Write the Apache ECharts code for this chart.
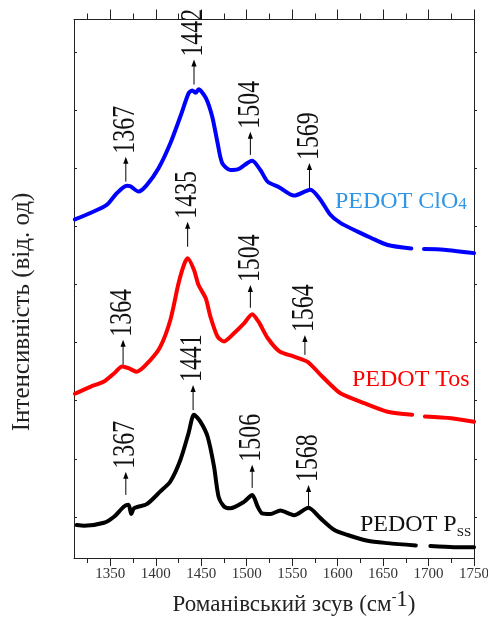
<!DOCTYPE html>
<html>
<head>
<meta charset="utf-8">
<script src="https://cdn.jsdelivr.net/npm/echarts@6/dist/echarts.min.js"></script>
<style>
  html, body { margin: 0; padding: 0; background: #fff; }
  #chart { width: 488px; height: 619px; }
</style>
</head>
<body>
<div id="chart"></div>
<script>
// Raman spectra of three PEDOT films, stacked with vertical offsets (arb. units).
// null marks the break in each recorded trace.

const shiftClO4 = [1311, 1328, 1346, 1357, 1368, 1372, 1381, 1390, 1403, 1416, 1427, 1436, 1440, 1444, 1447, 1455, 1462, 1468, 1473, 1482, 1490, 1506, 1515, 1523, 1536, 1552, 1570, 1581, 1592, 1603, 1622, 1637, 1655, 1681, 1688, 1695, 1717, 1750];
const intClO4   = [51.2, 52.3, 53.7, 55.7, 57.0, 56.9, 56.0, 57.1, 60.0, 64.3, 68.9, 72.9, 73.4, 73.0, 73.6, 72.1, 68.9, 64.3, 60.9, 59.7, 59.8, 61.3, 59.7, 57.7, 56.7, 55.3, 56.3, 54.6, 52.0, 50.6, 49.1, 48.0, 46.8, 46.2, null, 46.1, 46.0, 45.4];

const shiftTos = [1311, 1328, 1343, 1354, 1363, 1370, 1379, 1394, 1405, 1416, 1425, 1431, 1435, 1442, 1447, 1455, 1460, 1468, 1475, 1486, 1497, 1506, 1513, 1523, 1536, 1552, 1567, 1581, 1592, 1603, 1629, 1655, 1682, 1689, 1696, 1725, 1750];
const intTos   = [21.2, 22.4, 23.3, 24.7, 25.9, 25.6, 25.0, 27.0, 29.3, 33.9, 40.2, 43.4, 44.5, 42.5, 39.9, 37.6, 34.5, 31.0, 30.2, 31.6, 33.3, 34.9, 33.6, 30.8, 28.5, 27.6, 26.7, 24.5, 22.8, 21.3, 19.6, 18.1, 17.6, null, 17.3, 17.0, 16.4];

const shiftPSS = [1313, 1321, 1343, 1354, 1365, 1370, 1373, 1376, 1390, 1405, 1416, 1427, 1436, 1442, 1449, 1457, 1464, 1469, 1475, 1482, 1497, 1506, 1512, 1517, 1526, 1537, 1552, 1568, 1581, 1596, 1611, 1633, 1655, 1686, 1694, 1702, 1728, 1750];
const intPSS   = [-1.4, -1.5, -1.0, 0.05, 1.8, 2.1, 0.5, 1.5, 2.2, 4.4, 6.1, 9.8, 14.4, 17.6, 16.4, 13.8, 8.7, 3.5, 1.8, 1.5, 2.6, 3.8, 1.8, 0.6, 0.5, 1.1, 0.3, 1.6, -0.2, -2.2, -3.1, -4.1, -4.5, -4.9, null, -5.0, -5.2, -5.2];

// Assigned bands: position (cm-1), arrow foot and arrow tip (intensity units)
const peaksClO4    = [1367, 1442, 1504, 1569];
const arrowFootClO4 = [57.7, 74.4, 62.3, 56.5];
const arrowTipClO4  = [62.0, 78.7, 66.3, 60.9];

const peaksTos     = [1364, 1435, 1504, 1564];
const arrowFootTos = [26.2, 46.5, 36.0, 27.9];
const arrowTipTos  = [30.5, 50.8, 39.9, 31.3];

const peaksPSS     = [1367, 1441, 1506, 1568];
const arrowFootPSS = [3.8, 18.4, 5.0, 1.9];
const arrowTipPSS  = [7.8, 22.7, 9.0, 5.5];

// Axis ticks
const xMajorTicks = [1350, 1400, 1450, 1500, 1550, 1600, 1650, 1700, 1750];
const xMinorTicks = [1325, 1375, 1425, 1475, 1525, 1575, 1625, 1675, 1725];
const yTicks = [0, 10, 20, 30, 40, 50, 60, 70, 80];

const X_MIN = 1310, X_MAX = 1750;
const Y_MIN = -7.06, Y_MAX = 85.6;
const SERIF = '"Liberation Serif", "Times New Roman", serif';

function toPairs(xs, ys) {
  return xs.map((x, i) => [x, ys[i] === null ? '-' : ys[i]]);
}
function toPeaks(xs, foot, tip) {
  return xs.map((x, i) => [x, foot[i], tip[i]]);
}

function renderPeak(params, api) {
  const x = api.value(0);
  const foot = api.coord([x, api.value(1)]);
  const tip = api.coord([x, api.value(2)]);
  const headLen = 7, headHalf = 2.6;
  return {
    type: 'group',
    children: [
      { type: 'line',
        shape: { x1: foot[0], y1: foot[1], x2: tip[0], y2: tip[1] + headLen - 1 },
        style: { stroke: '#000', lineWidth: 1 } },
      { type: 'polygon',
        shape: { points: [[tip[0], tip[1]], [tip[0] - headHalf, tip[1] + headLen], [tip[0] + headHalf, tip[1] + headLen]] },
        style: { fill: '#000' } },
      { type: 'text',
        x: tip[0], y: tip[1] - 3,
        rotation: Math.PI / 2, scaleX: 0.77,
        style: { text: String(x), fontSize: 31, fontFamily: SERIF, fill: '#111',
                 align: 'left', verticalAlign: 'middle' } }
    ]
  };
}

function spectrum(name, xs, ys, color) {
  return {
    name, type: 'line', data: toPairs(xs, ys),
    xAxisIndex: 0, yAxisIndex: 0,
    showSymbol: false, smooth: 0.25, connectNulls: false,
    lineStyle: { color, width: 4, cap: 'round', join: 'round' },
    itemStyle: { color },
    silent: true, animation: false, z: 3
  };
}
function peakSeries(xs, foot, tip) {
  return {
    type: 'custom', renderItem: renderPeak, data: toPeaks(xs, foot, tip),
    encode: { x: 0, y: [1, 2] }, xAxisIndex: 0, yAxisIndex: 0,
    silent: true, animation: false, z: 5
  };
}

const axisLineStyle = { color: '#222', width: 1 };
function xAxisDef(position, ticks, len, withLine, withLabels) {
  return {
    type: 'value', min: X_MIN, max: X_MAX, position,
    axisLine: { show: withLine, onZero: false, lineStyle: axisLineStyle },
    axisTick: { show: true, inside: false, length: len, customValues: ticks, lineStyle: axisLineStyle },
    axisLabel: withLabels
      ? { show: true, customValues: ticks, formatter: v => String(v),
          fontFamily: SERIF, fontSize: 15, color: '#333', margin: 9 }
      : { show: false },
    splitLine: { show: false }
  };
}
function yAxisDef(position, inside) {
  return {
    type: 'value', min: Y_MIN, max: Y_MAX, position,
    axisLine: { show: true, onZero: false, lineStyle: axisLineStyle },
    axisTick: { show: true, inside, length: 3, customValues: yTicks, lineStyle: axisLineStyle },
    axisLabel: { show: false },
    splitLine: { show: false }
  };
}

const chart = echarts.init(document.getElementById('chart'), null, { renderer: 'canvas' });
chart.setOption({
  animation: false,
  backgroundColor: '#fff',
  grid: { left: 74, right: 14, top: 19.5, bottom: 61, containLabel: false, outerBoundsMode: 'none' },
  xAxis: [
    xAxisDef('bottom', xMajorTicks, 8, true, true),
    xAxisDef('bottom', xMinorTicks, 5, false, false),
    xAxisDef('top', xMajorTicks, 10, true, false),
    xAxisDef('top', xMinorTicks, 6, false, false)
  ],
  yAxis: [yAxisDef('left', true), yAxisDef('right', false)],
  series: [
    spectrum('PEDOT ClO4', shiftClO4, intClO4, '#0000FF'),
    spectrum('PEDOT Tos', shiftTos, intTos, '#FF0000'),
    spectrum('PEDOT PSS', shiftPSS, intPSS, '#000000'),
    peakSeries(peaksClO4, arrowFootClO4, arrowTipClO4),
    peakSeries(peaksTos, arrowFootTos, arrowTipTos),
    peakSeries(peaksPSS, arrowFootPSS, arrowTipPSS)
  ],
  graphic: [
    { type: 'text', x: 22, y: 312, rotation: Math.PI / 2, silent: true,
      style: { text: 'Інтенсивність (від. од)', fontSize: 25, fontFamily: SERIF, fill: '#222',
               align: 'center', verticalAlign: 'middle' } },
    { type: 'text', x: 294, y: 605, silent: true,
      style: { text: '{m|Романівський зсув (см}{s|-}{o|1}{m|)}', align: 'center', verticalAlign: 'middle',
               rich: {
                 m: { fontSize: 23, fontFamily: SERIF, fill: '#222', lineHeight: 40 },
                 s: { fontSize: 14, fontFamily: SERIF, fill: '#222', lineHeight: 14, verticalAlign: 'top', padding: [5, 0, 0, 0] },
                 o: { fontSize: 23, fontFamily: SERIF, fill: '#222', lineHeight: 23, verticalAlign: 'top', padding: [3.5, 0, 0, 0] }
               } } },
    { type: 'text', x: 335, y: 202, silent: true,
      style: { text: '{m|PEDOT ClO}{d|4}', align: 'left', verticalAlign: 'middle',
               rich: {
                 m: { fontSize: 24, fontFamily: SERIF, fill: '#2F95E6', lineHeight: 30 },
                 d: { fontSize: 17, fontFamily: SERIF, fill: '#2F95E6', lineHeight: 17, verticalAlign: 'top', padding: [8.8, 0, 0, 0] }
               } } },
    { type: 'text', x: 352, y: 380, silent: true,
      style: { text: 'PEDOT Tos', fontSize: 24, fontFamily: SERIF, fill: '#FF0000',
               align: 'left', verticalAlign: 'middle' } },
    { type: 'text', x: 360, y: 525, silent: true,
      style: { text: '{m|PEDOT P}{b|SS}', align: 'left', verticalAlign: 'middle',
               rich: {
                 m: { fontSize: 24, fontFamily: SERIF, fill: '#111', lineHeight: 30 },
                 b: { fontSize: 13, fontFamily: SERIF, fill: '#111', lineHeight: 13, verticalAlign: 'top', padding: [16, 0, 0, 0] }
               } } }
  ]
});
</script>
</body>
</html>
